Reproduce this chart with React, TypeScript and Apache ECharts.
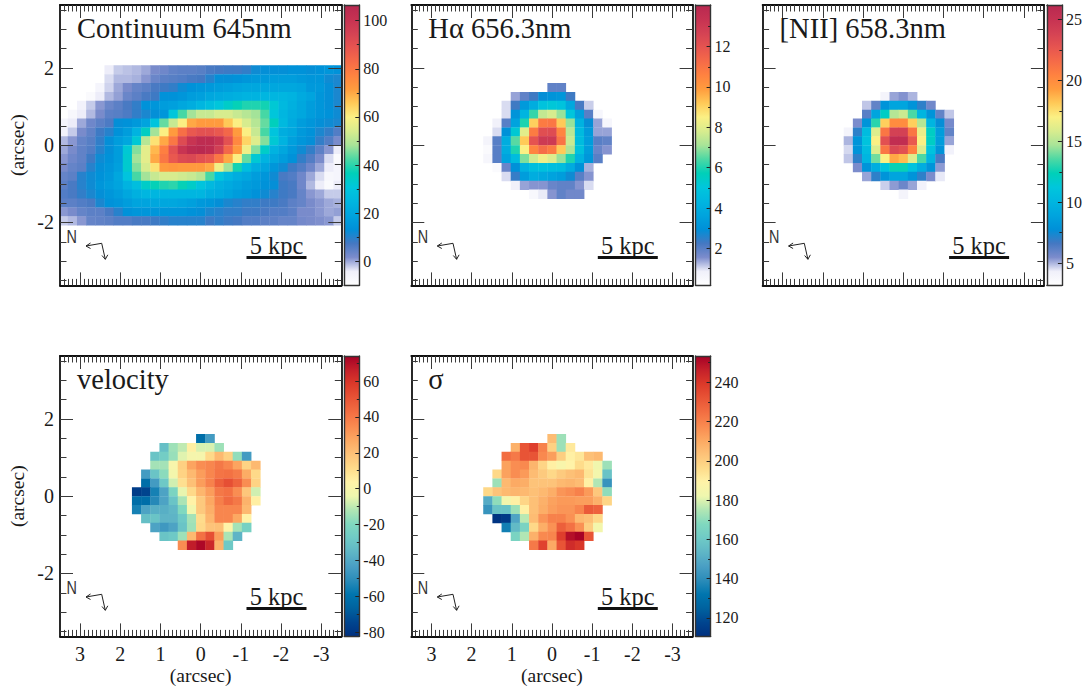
import React, { useEffect, useRef } from "react";
import * as echarts from "echarts";

const _ = null;

const panelTitles = ["Continuum 645nm", "H\u03b1 656.3nm", "[NII] 658.3nm", "velocity", "\u03c3"];
const scaleLabel = "5 kpc";
const northLabel = "N";
const axisName = "(arcsec)";

const continuum = [
  [_, _, _, _, _, -4, -2, -1.5, -1, 0, 2, 3, 4.5, 5, 5, 5.5, 7, 7.5, 8, 8, 9, 12, 13, 13, 13, 14, 14, 13, 14, 15, 14],
  [_, _, _, _, _, -3, -1, -1, -0.5, 1, 3.5, 5, 5.5, 6, 7, 7.5, 10, 13, 13, 14, 15, 16, 16, 17, 17, 17, 16, 15, 15, 12, 11],
  [_, _, _, _, -6, -2.5, 0, 2, 4, 5, 7, 8, 9, 12, 14, 15, 16, 17, 18, 19, 20, 20, 20, 20, 20, 20, 19, 16, 16, 13, 11],
  [_, _, _, -8, -4, -1, 0.5, 3.5, 5, 7, 8, 14, 14, 15, 17, 18, 20, 21, 22, 23, 24, 24, 25, 25, 25, 24, 21, 19, 15, 13, 11],
  [_, _, -5, -2, 1, 3.5, 5, 7, 9, 14, 15, 17, 18, 20, 22, 25, 28, 31, 34, 37, 39, 39, 38, 32, 26, 23, 20, 17, 15, 13, 11],
  [_, -7, -4, -1, 2, 5, 5.5, 6.5, 9, 11, 13, 15, 31, 42, 48, 52, 52, 54, 54, 52, 50, 48, 42, 31, 25, 22, 20, 17, 15, 14, 12],
  [-6, -4, 0, 3, 5, 6.5, 13, 14, 16, 19, 30, 44, 52, 60, 70, 72, 72, 72, 66, 60, 54, 50, 44, 36, 26, 21, 17, 15, 13, 12, 11],
  [-5, -2, 2, 4.5, 8, 10, 14, 17, 24, 35, 48, 60, 72, 82, 88, 90, 90, 88, 84, 72, 60, 52, 42, 30, 22, 20, 16, 14, 11, 9, 6],
  [-1, 1, 4, 5.5, 9, 13, 17, 20, 32, 50, 62, 70, 80, 92, 100, 104, 104, 100, 90, 76, 64, 55, 46, 32, 24, 18, 15, 13, 9, 6, 2],
  [0, 2, 4.5, 6, 10, 13, 17, 32, 46, 56, 68, 78, 90, 100, 105, 106, 104, 96, 84, 72, 58, 46, 34, 24, 20, 16, 12, 9, 5, 1, -4],
  [1, 3, 4.5, 8, 12, 14, 17, 33, 48, 56, 70, 80, 88, 92, 93, 90, 88, 80, 70, 60, 44, 32, 24, 20, 17, 14, 9, 6, 2, -3, -8],
  [2, 4, 5, 10, 13, 15, 18, 33, 46, 54, 62, 72, 73, 72, 72, 72, 70, 58, 48, 38, 28, 22, 19, 15, 12, 8, 6, 3, 0, -4, -6],
  [4, 5, 10, 12, 14, 16, 20, 30, 42, 48, 52, 54, 54, 53, 52, 50, 42, 30, 25, 22, 20, 17, 15, 12, 7, 6, 3, 0, -3, -7, -6],
  [5, 7, 10, 12, 15, 17, 19, 24, 28, 34, 37, 39, 40, 37, 34, 30, 26, 23, 21, 19, 17, 16, 14, 13, 8, 7, 3, -1, -4, -8, -4],
  [6, 7, 9, 11, 13, 15, 17, 20, 23, 25, 25, 25, 25, 25, 25, 25, 22, 21, 19, 17, 16, 14, 12, 10, 8, 7, 4, 1, 0, -2, -2],
  [5, 5, 6, 7, 11, 14, 15, 17, 19, 19, 20, 20, 20, 19, 18, 16, 15, 13, 11, 10, 9, 9, 8, 8, 7, 5, 4, 2, 1, 0, -0.5],
  [1, 2, 4, 5, 5, 7, 10, 14, 15, 15, 15, 15, 15, 15, 14, 13, 11, 10, 9, 9, 8, 8, 7, 6, 6, 5, 2, 2, 1, 0, 0.5],
  [-2, -1, 1, 4, 4.5, 5, 6, 6, 7, 7, 8, 9, 10, 10, 10, 10, 8, 9, 8, 7.5, 6, 6, 5, 5, 4, 4, 2.5, 2, 1.5, 1, -2],
];

const halpha = [
  [_, _, _, _, _, _, _, 1.9, 1.9, _, _, _, _, _],
  [_, _, _, 1.4, 1.9, 2.3, 2.9, 3.1, 3.2, 2.3, _, _, _, _],
  [_, _, 1.0, 2.3, 3.3, 4, 4.9, 5.1, 4.9, 3.8, 2.2, 1.1, _, _],
  [_, _, 1.0, 3.1, 4.3, 6.2, 7.5, 7.8, 7, 5, 3.5, 2.0, 0.6, _],
  [_, 0.8, 2.0, 3.6, 6, 9.1, 10.8, 10.9, 9.2, 7, 4.2, 2.9, 1.4, 0.6],
  [_, 1.0, 3, 5.2, 8, 10.8, 12.2, 12.3, 10.5, 7.4, 4.5, 3.3, 1.4, 1.4],
  [0.7, 2, 4, 6.5, 9.2, 12, 13, 13, 11, 7.6, 4.6, 3.4, 2, 1.9],
  [0.4, 2, 4, 6, 8.5, 10.5, 11.2, 10.8, 9.2, 7.2, 4.8, 3.4, 1.8, 1.5],
  [0.6, 2, 3.6, 4.6, 6.8, 7.7, 8.3, 7.9, 7, 6, 4.2, 3.2, 2, _],
  [_, 0.4, 1.8, 3, 4.2, 4.7, 4.8, 4.7, 4.6, 3.9, 3, 1.3, _, _],
  [_, _, 1.0, 2.4, 3.4, 4, 3.8, 3.6, 3.4, 2.8, 2.0, 1.5, _, _],
  [_, _, _, 0.8, 1.4, 1.5, 1.5, 1.8, 1.9, 1.9, 1.5, 1.0, _, _],
  [_, _, _, _, _, 0.5, 0.9, 1.5, 1.9, 1.7, 1.7, _, _, _],
];

const nii = [
  [_, _, _, _, 4, 5.2, 5.4, 5, _, _, _, _],
  [_, _, 4.8, 6, 8, 9, 9, 8, 7, 5.7, _, _],
  [_, _, 6.2, 9, 12, 15, 15.5, 13.5, 10, 8, 6, 4.8],
  [_, 5.5, 8, 13, 18, 20, 20, 18, 15, 10, 7.7, 5.6],
  [4, 7, 10.5, 16, 21, 24, 24, 21, 16.5, 12, 8.5, 6],
  [5, 8, 11, 17, 23, 25.5, 25.5, 22.5, 17, 12, 8.5, 5.2],
  [4.6, 8, 10.5, 16, 21, 23.5, 23, 20.5, 16, 11, 8, 4.2],
  [4.8, 7, 10, 14, 17, 19, 18.5, 16, 13.5, 10, 6.5, _],
  [_, 5.5, 8, 9.5, 11, 12.5, 12.5, 11, 9.5, 8, 5.3, _],
  [_, _, 5.2, 7, 8, 9, 9, 8, 7, 5.5, 4.4, _],
  [_, _, _, _, 4.7, 5.3, 5.8, 5.2, 4.2, _, _, _],
  [_, _, _, _, _, _, 4, _, _, _, _, _],
];

const velocity = [
  [_, _, _, _, _, _, _, -62, -45, _, _, _, _, _],
  [_, _, _, -32, -15, -10, 5, -7, -7, -15, _, _, _, _],
  [_, _, -30, -26, -16, -6, -1, -1, 12, 22, 15, -17, -45, _],
  [_, _, -14, -14, 0, 15, 28, 34, 36, 40, 36, 28, 14, 22],
  [_, -45, -30, -18, -2, 14, 22, 30, 36, 41, 42, 39, 26, 12],
  [_, -62, -45, -28, -8, 10, 20, 30, 37, 47, 52, 46, 34, 14],
  [-78, -75, -55, -42, -22, -5, 12, 23, 30, 40, 42, 34, 18, -8],
  [-62, -62, -52, -42, -30, -13, 4, 17, 27, 38, 44, 40, 24, 5],
  [-55, -42, -38, -38, -35, -20, -3, 17, 25, 36, 36, 36, 22, _],
  [_, -32, -30, -36, -36, -28, -14, 11, 23, 36, 36, 27, 4, _],
  [_, _, -42, -46, -42, -30, -15, 12, 19, 20, 3, -14, -24, _],
  [_, _, _, -30, -28, -15, 22, 42, 52, 30, -13, -36, _, _],
  [_, _, _, _, _, 34, 67, 72, 64, 24, -28, _, _, _],
];

const sigma = [
  [_, _, _, _, _, _, _, 205, 172, _, _, _, _, _],
  [_, _, _, 208, 232, 238, 220, 199, 172, 192, _, _, _, _],
  [_, _, 225, 222, 232, 232, 218, 213, 200, 190, 193, 204, 206, _],
  [_, _, 212, 217, 218, 207, 198, 190, 186, 189, 196, 192, 183, 172],
  [_, 197, 212, 217, 214, 205, 201, 197, 201, 204, 206, 194, 184, 158],
  [_, 172, 206, 210, 209, 203, 203, 203, 206, 207, 205, 190, 175, 142],
  [197, 203, 206, 207, 206, 204, 206, 209, 215, 217, 220, 214, 202, 170],
  [150, 170, 184, 190, 198, 204, 208, 212, 214, 214, 213, 213, 208, 198],
  [142, 158, 158, 172, 190, 204, 209, 213, 215, 215, 219, 230, 228, _],
  [_, 112, 114, 148, 176, 205, 215, 220, 220, 216, 206, 204, 197, _],
  [_, _, 135, 155, 165, 197, 209, 216, 229, 224, 216, 200, 184, _],
  [_, _, _, 165, 175, 208, 218, 219, 238, 250, 253, 232, _, _],
  [_, _, _, _, _, 222, 237, 210, 232, 243, 240, _, _, _],
];

const fluxColors = [
  "#ffffff", "#f0f0fa", "#7c8ccc", "#4478c2", "#0090d8", "#00a4de", "#00b6e0",
  "#00c6dc", "#00d0b8", "#4cd8a4", "#a8e498", "#d8ec8e", "#fbf084", "#ffca58",
  "#ff9c3e", "#ff8240", "#f56a48", "#e65450", "#d44254", "#c63252", "#b82850",
];
const kinColors = [
  "#00307f", "#00458f", "#00629f", "#0075ae", "#2b8cb9", "#4a9fc4", "#5fb6c6",
  "#6fcac6", "#80d8bf", "#b0e6b4", "#eef7ae", "#fff3a8", "#fedb8a", "#fdc278",
  "#fca862", "#f98a50", "#f26e42", "#e85436", "#dc3a2a", "#c4202a", "#a50026",
];

const barRanges = [[-10, 106.5], [0.17, 14.06], [3.17, 26.2], [-82.4, 74], [110.6, 253.4]];
const barMajor = [
  [0, 20, 40, 60, 80, 100],
  [2, 4, 6, 8, 10, 12],
  [5, 10, 15, 20, 25],
  [-80, -60, -40, -20, 0, 20, 40, 60],
  [120, 140, 160, 180, 200, 220, 240],
];
const barMinor = [
  [10, 30, 50, 70, 90],
  [1, 3, 5, 7, 9, 11, 13],
  [7.5, 12.5, 17.5, 22.5],
  [-70, -50, -30, -10, 10, 30, 50, 70],
  [130, 150, 170, 190, 210, 230, 250],
];

const xMajor = [-3, -2, -1, 0, 1, 2, 3];
const xMinor = [
  -3.4, -3.3, -3.2, -3.1, -2.9, -2.8, -2.7, -2.6, -2.5, -2.4, -2.3, -2.2, -2.1,
  -1.9, -1.8, -1.7, -1.6, -1.5, -1.4, -1.3, -1.2, -1.1, -0.9, -0.8, -0.7, -0.6,
  -0.5, -0.4, -0.3, -0.2, -0.1, 0.1, 0.2, 0.3, 0.4, 0.5, 0.6, 0.7, 0.8, 0.9,
  1.1, 1.2, 1.3, 1.4, 1.5, 1.6, 1.7, 1.8, 1.9, 2.1, 2.2, 2.3, 2.4, 2.5, 2.6,
  2.7, 2.8, 2.9, 3.1, 3.2, 3.3, 3.4,
];
const yMajor = [-2, 0, 2];
const yMinor = [-3.5, -3, -2.5, -1.5, -1, -0.5, 0.5, 1, 1.5, 2.5, 3, 3.5];

const X_LIM = 3.5;
const Y_LIM = 3.63;
const CELL_X = 0.228;
const CELL_Y = 0.23;

const panelMaps = [
  { rows: continuum, firstCol: 15, topEdge: 9, colors: fluxColors },
  { rows: halpha, firstCol: 7, topEdge: 7, colors: fluxColors },
  { rows: nii, firstCol: 6, topEdge: 6, colors: fluxColors },
  { rows: velocity, firstCol: 7, topEdge: 7, colors: kinColors },
  { rows: sigma, firstCol: 7, topEdge: 7, colors: kinColors },
];

const panelBoxes = [
  { left: 60, top: 5 },
  { left: 411.3, top: 5 },
  { left: 762.6, top: 5 },
  { left: 60, top: 356 },
  { left: 411.3, top: 356 },
];
const PLOT_W = 281.3;
const PLOT_H = 280.4;
const BAR_GAP = 3;
const BAR_W = 15;

const FONT = '"Liberation Serif", "Times New Roman", serif';
const INK = "#1a1a1a";

function buildOption() {
  const grid: any[] = [];
  const xAxis: any[] = [];
  const yAxis: any[] = [];
  const series: any[] = [];
  const visualMap: any[] = [];
  const graphic: any[] = [];

  const line = { show: true, onZero: false, lineStyle: { color: "#111111", width: 1.8 } };
  const noLine = { show: false, onZero: false };

  panelBoxes.forEach((box, p) => {
    const map = panelMaps[p];
    const range = barRanges[p];
    const isBottom = p >= 3;
    const isLeft = p === 0 || p === 3;

    // Map panel
    const gridIndex = grid.length;
    grid.push({ left: box.left, top: box.top, width: PLOT_W, height: PLOT_H, outerBoundsMode: "none", containLabel: false });
    const xBase: any = { type: "value", gridIndex, min: -X_LIM, max: X_LIM, inverse: true, splitLine: { show: false }, z: 10 };
    const yBase: any = { type: "value", gridIndex, min: -Y_LIM, max: Y_LIM, splitLine: { show: false }, z: 10 };
    const mainX = xAxis.length;
    const mainY = yAxis.length;
    const tick = (values: number[], length: number) => ({
      show: true, inside: true, length, customValues: values, lineStyle: { color: "#3a3a3a", width: 1 },
    });
    xAxis.push({
      ...xBase, position: "bottom", axisLine: line, axisTick: tick(xMajor, 13),
      axisLabel: isBottom
        ? { show: true, customValues: xMajor, fontFamily: FONT, fontSize: 20, color: INK, margin: 8 }
        : { show: false },
      ...(isBottom
        ? { name: axisName, nameLocation: "middle", nameGap: 28, nameTextStyle: { fontFamily: FONT, fontSize: 19.5, color: INK } }
        : {}),
    });
    xAxis.push({ ...xBase, position: "bottom", axisLine: noLine, axisTick: tick(xMinor, 6.5), axisLabel: { show: false } });
    xAxis.push({ ...xBase, position: "top", axisLine: line, axisTick: tick(xMajor, 13), axisLabel: { show: false } });
    xAxis.push({ ...xBase, position: "top", axisLine: noLine, axisTick: tick(xMinor, 6.5), axisLabel: { show: false } });
    yAxis.push({
      ...yBase, position: "left", axisLine: line, axisTick: tick(yMajor, 13),
      axisLabel: isLeft
        ? { show: true, customValues: yMajor, fontFamily: FONT, fontSize: 20, color: INK, margin: 6 }
        : { show: false },
      ...(isLeft
        ? { name: axisName, nameLocation: "middle", nameGap: 33, nameTextStyle: { fontFamily: FONT, fontSize: 19.5, color: INK } }
        : {}),
    });
    yAxis.push({ ...yBase, position: "left", axisLine: noLine, axisTick: tick(yMinor, 6.5), axisLabel: { show: false } });
    yAxis.push({ ...yBase, position: "right", axisLine: line, axisTick: tick(yMajor, 13), axisLabel: { show: false } });
    yAxis.push({ ...yBase, position: "right", axisLine: noLine, axisTick: tick(yMinor, 6.5), axisLabel: { show: false } });

    const cells: number[][] = [];
    map.rows.forEach((row, r) => {
      row.forEach((value, c) => {
        if (value === null) return;
        cells.push([(map.firstCol - c) * CELL_X, (map.topEdge - r - 0.5) * CELL_Y, value as number]);
      });
    });
    const seriesIndex = series.length;
    series.push({
      type: "custom",
      coordinateSystem: "cartesian2d",
      xAxisIndex: mainX,
      yAxisIndex: mainY,
      clip: true,
      silent: true,
      data: cells,
      encode: { x: 0, y: 1 },
      renderItem: (_params: any, api: any) => {
        const cx = api.value(0);
        const cy = api.value(1);
        const a = api.coord([cx + CELL_X / 2, cy + CELL_Y / 2]);
        const b = api.coord([cx - CELL_X / 2, cy - CELL_Y / 2]);
        const rect = echarts.graphic.clipRectByRect(
          { x: a[0], y: a[1], width: b[0] - a[0] + 0.4, height: b[1] - a[1] + 0.4 },
          { x: _params.coordSys.x, y: _params.coordSys.y, width: _params.coordSys.width, height: _params.coordSys.height }
        );
        if (!rect) return null;
        return { type: "rect", shape: rect, style: { fill: api.visual("color") } };
      },
    });
    visualMap.push({
      show: false, type: "continuous", seriesIndex, dimension: 2,
      min: range[0], max: range[1], inRange: { color: map.colors },
    });

    // Colour bar
    const barGrid = grid.length;
    const barLeft = box.left + PLOT_W + BAR_GAP;
    grid.push({ left: barLeft, top: box.top, width: BAR_W, height: PLOT_H, outerBoundsMode: "none", containLabel: false });
    const bx: any = { type: "value", gridIndex: barGrid, min: 0, max: 1, splitLine: { show: false }, axisTick: { show: false }, axisLabel: { show: false }, z: 10 };
    const by: any = { type: "value", gridIndex: barGrid, min: range[0], max: range[1], splitLine: { show: false }, z: 10 };
    const barLine = { show: true, onZero: false, lineStyle: { color: "#333333", width: 1.4 } };
    const barX = xAxis.length;
    const barY = yAxis.length;
    xAxis.push({ ...bx, position: "bottom", axisLine: barLine });
    xAxis.push({ ...bx, position: "top", axisLine: barLine });
    yAxis.push({
      ...by, position: "right", axisLine: barLine,
      axisTick: { show: true, inside: true, length: 4, customValues: barMajor[p], lineStyle: { color: "#222", width: 1 } },
      axisLabel: { show: true, customValues: barMajor[p], fontFamily: FONT, fontSize: 16, color: INK, margin: 4 },
    });
    yAxis.push({
      ...by, position: "right", axisLine: noLine,
      axisTick: { show: true, inside: true, length: 2.5, customValues: barMinor[p], lineStyle: { color: "#222", width: 1 } },
      axisLabel: { show: false },
    });
    yAxis.push({ ...by, position: "left", axisLine: barLine, axisTick: { show: false }, axisLabel: { show: false } });
    const n = map.colors.length - 1;
    const stops = map.colors.map((color, i) => ({ offset: i / n, color }));
    series.push({
      type: "custom",
      coordinateSystem: "cartesian2d",
      xAxisIndex: barX,
      yAxisIndex: barY,
      silent: true,
      data: [[0, range[0], 1, range[1]]],
      encode: { x: [0, 2], y: [1, 3] },
      renderItem: (_params: any, api: any) => {
        const a = api.coord([api.value(0), api.value(3)]);
        const b = api.coord([api.value(2), api.value(1)]);
        return {
          type: "rect",
          shape: { x: a[0], y: a[1], width: b[0] - a[0], height: b[1] - a[1] },
          style: { fill: new echarts.graphic.LinearGradient(0, 1, 0, 0, stops) },
        };
      },
    });

    // Annotations
    const dx = box.left - 60;
    const dy = box.top - 5;
    graphic.push({
      type: "text", x: 77 + dx, y: 43 + dy, z: 20,
      style: { text: panelTitles[p], font: `28.5px ${FONT}`, fill: INK, textAlign: "left", textVerticalAlign: "bottom" },
    });
    graphic.push({
      type: "text", x: 276.5 + dx, y: 257.5 + dy, z: 20,
      style: { text: scaleLabel, font: `24.5px ${FONT}`, fill: INK, textAlign: "center", textVerticalAlign: "bottom" },
    });
    graphic.push({
      type: "line", z: 20,
      shape: { x1: 246.5 + dx, y1: 257.5 + dy, x2: 306.5 + dx, y2: 257.5 + dy },
      style: { stroke: "#111111", lineWidth: 2.8 },
    });
    graphic.push({
      type: "text", x: 66.5 + dx, y: 245.5 + dy, z: 20, scaleX: 0.8,
      style: { text: northLabel, font: `18px "Liberation Sans", sans-serif`, fill: "#333333", textAlign: "left", textVerticalAlign: "bottom" },
    });
    const lines = [
      [[86, 246], [101.7, 243.3], [105.3, 259.3]],
      [[90.5, 243], [86, 246], [90.5, 248.5]],
      [[102, 255.5], [105.3, 259.3], [107.8, 254.8]],
    ];
    lines.forEach((pts) => {
      graphic.push({
        type: "polyline", z: 20,
        shape: { points: pts.map(([x, y]) => [x + dx, y + dy]) },
        style: { stroke: "#222222", fill: "none", lineWidth: 1 },
      });
    });
  });

  return { animation: false, backgroundColor: "#ffffff", grid, xAxis, yAxis, series, visualMap, graphic };
}

export default function App() {
  const ref = useRef<HTMLDivElement>(null);
  useEffect(() => {
    document.body.style.margin = "0";
    const chart = echarts.init(ref.current!, null, { renderer: "svg" });
    chart.setOption(buildOption() as any);
    return () => chart.dispose();
  }, []);
  return <div ref={ref} style={{ width: 1085, height: 686 }} />;
}
